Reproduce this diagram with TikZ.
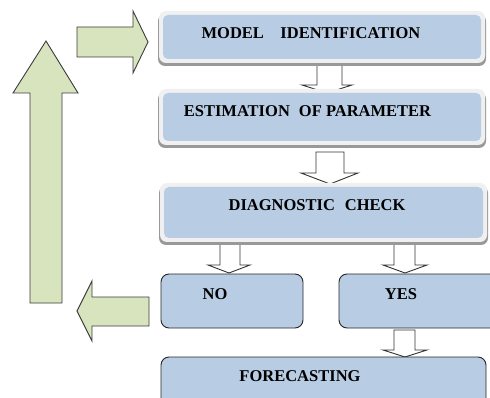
\documentclass[tikz,border=0pt]{standalone}
\usepackage{fontspec}
\setmainfont{Liberation Serif}
\begin{document}
\begin{tikzpicture}[x=1pt,y=-1pt,
  line join=miter,
  boxfill/.style={fill={rgb,255:red,184;green,204;blue,228}},
  greenarrow/.style={draw={rgb,255:red,60;green,60;blue,60},line width=0.9pt,fill={rgb,255:red,215;green,228;blue,189}},
  whitearrow/.style={draw=black!80,line width=0.9pt,fill=white},
  plainbox/.style={boxfill,draw=black!85,line width=0.9pt,rounded corners=8pt},
  lbl/.style={font=\bfseries\fontsize{16.5}{18}\selectfont,inner sep=0pt,anchor=base}
]
\useasboundingbox (0,0) rectangle (490,398);

% block arrows between the stages (drawn first, so the boxes cover their tips)
\draw[whitearrow] (317,65) -- (342,65) -- (342,85) -- (352,85) -- (327,93) -- (302,85) -- (317,85) -- cycle;
\draw[whitearrow] (316,152) -- (344,152) -- (344,173) -- (358,173) -- (330,184) -- (301,173) -- (316,173) -- cycle;
\draw[whitearrow] (220,244) -- (240,244) -- (240,265) -- (250,265) -- (229,273) -- (208,265) -- (220,265) -- cycle;
\draw[whitearrow] (394,244) -- (415,244) -- (415,265) -- (427,265) -- (405,273) -- (383,265) -- (394,265) -- cycle;
\draw[whitearrow] (394,330) -- (415,330) -- (415,350) -- (427,350) -- (405,357) -- (383,350) -- (394,350) -- cycle;

% feedback loop arrows
\draw[greenarrow] (30,303) -- (30,93) -- (13,93) -- (46,41) -- (78,93) -- (62,93) -- (62,303) -- cycle;
\draw[greenarrow] (77,27) -- (133,27) -- (133,11) -- (148,42) -- (133,73) -- (133,57) -- (77,57) -- cycle;
\draw[greenarrow] (149,297) -- (92,297) -- (92,281) -- (77,311) -- (92,341) -- (92,326) -- (149,326) -- cycle;

% stage boxes with a soft white rim and a shadow
\foreach \nm/\xa/\ya/\xb/\yb in {model/159/11/485/63, estim/159/89/485/145, diag/160/183/487/242}{
  \fill[black!40] (\xa-1,\ya+3) [rounded corners=7pt] rectangle (\xb+1,\yb+3);
  \fill[black!6] (\xa,\ya) [rounded corners=7pt] rectangle (\xb,\yb);
  \fill[boxfill] (\xa+4,\ya+4) [rounded corners=5pt] rectangle (\xb-4,\yb-4);
  \coordinate (\nm) at ({(\xa+\xb)/2},{(\ya+\yb)/2});
}
\node[lbl] (tmodel) at (311,39) {MODEL\hspace{1.0em}IDENTIFICATION};
\node[lbl] (testim) at (307.5,117) {ESTIMATION\hspace{0.3em} OF PARAMETER};
\node[lbl] (tdiag) at (317,211) {DIAGNOSTIC\hspace{0.35em} CHECK};

% decision and result boxes
\draw[plainbox] (161,274) rectangle (303,328);
\draw[plainbox] (339,274) rectangle (498,328);
\draw[plainbox] (161,357) rectangle (486,406);
\node[lbl] (tno) at (215,299) {NO};
\node[lbl] (tyes) at (401,299) {YES};
\node[lbl] (tfore) at (300,381) {FORECASTING};
\end{tikzpicture}
\end{document}
